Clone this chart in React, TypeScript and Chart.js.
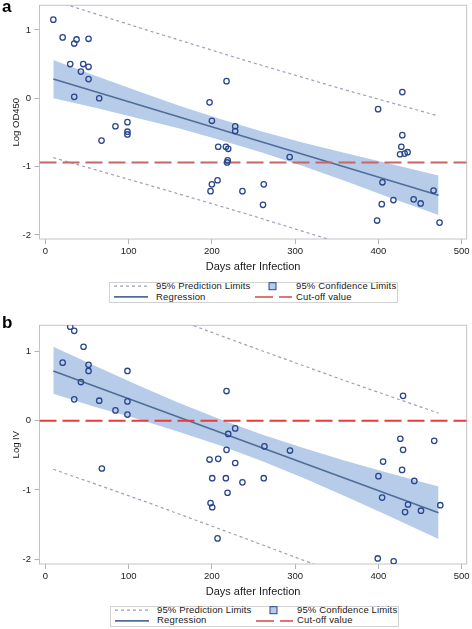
import React, { useEffect, useRef } from 'react';
import { Chart, registerables } from 'chart.js';

Chart.register(...registerables);

const FONT = "'Liberation Sans', Arial, Helvetica, sans-serif";

// ---------- shared axis data ----------
const xTickValues = [0, 100, 200, 300, 400, 500];
const yTickValues = [-2, -1, 0, 1];
const xAxisTitle = 'Days after Infection';
const legendLabels = ['95% Prediction Limits', '95% Confidence Limits', 'Regression', 'Cut-off value'];

// ---------- panel a : Log OD450 ----------
const daysA = [
  9.6, 20.8, 34.7, 37.5, 51.9, 29.9, 45.5, 51.9, 42.7, 51.9, 34.7, 64.7, 84.2, 98.6, 98.6, 98.6, 67.5,
  197.2, 200, 217.6, 228, 228, 207.6, 216.8, 219.6, 219, 218.3, 198.4, 200, 206.8,
  428.7, 399.6, 428.7, 427.5, 426, 431.5, 435, 293.4, 262.3, 236.7, 261.4,
  404.8, 404, 418, 398.4, 442.3, 450.7, 466.2, 473.4,
];
const logOD450 = [
  1.15, 0.89, 0.8, 0.86, 0.87, 0.5, 0.5, 0.46, 0.39, 0.28, 0.02, 0.0, -0.41, -0.35, -0.49, -0.53, -0.62,
  -0.06, -0.33, 0.25, -0.41, -0.48, -0.71, -0.71, -0.74, -0.91, -0.94, -1.36, -1.26, -1.2,
  0.09, -0.16, -0.54, -0.71, -0.82, -0.81, -0.79, -0.86, -1.26, -1.36, -1.56,
  -1.23, -1.55, -1.49, -1.79, -1.48, -1.54, -1.35, -1.82,
];
const regDaysA = [9.6, 472.2];
const regLogA = [0.28, -1.42];
const bandDaysA = [9.6, 60, 110, 160, 210, 260, 310, 360, 410, 472.2];
const confUpperA = [0.56, 0.33, 0.11, -0.105, -0.305, -0.487, -0.651, -0.803, -0.947, -1.13];
const confLowerA = [0.0, -0.14, -0.29, -0.44, -0.61, -0.793, -0.997, -1.213, -1.437, -1.71];
const predDaysA = [9.6, 125, 240, 355, 472.2];
const predUpperA = [1.43, 0.986, 0.553, 0.14, -0.26];
const predLowerA = [-0.87, -1.274, -1.687, -2.12, -2.58];
const cutoffA = -0.94;

// ---------- panel b : Log IV ----------
const daysB = [
  29.9, 34.7, 45.9, 20.8, 51.9, 51.9, 98.6, 42.7, 34.7, 64.7, 98.6, 84.2, 98.6, 67.9,
  217.6, 228, 219.6, 217.6, 197.2, 207.6, 228, 200.4, 216.8, 218.8, 198.4, 200.4, 206.8,
  429.6, 263.1, 293.8, 426.3, 429.6, 467, 405.6, 428.4, 236.7, 262.3, 400, 443.1,
  404.4, 435.5, 432, 451.1, 474.3, 399.2, 418.3,
];
const logIV = [
  1.36, 1.3, 1.07, 0.84, 0.81, 0.72, 0.72, 0.56, 0.31, 0.29, 0.28, 0.15, 0.09, -0.69,
  0.43, -0.11, -0.19, -0.42, -0.56, -0.55, -0.61, -0.83, -0.83, -1.04, -1.19, -1.25, -1.7,
  0.36, -0.37, -0.43, -0.26, -0.42, -0.29, -0.59, -0.71, -0.89, -0.83, -0.8, -0.87,
  -1.11, -1.21, -1.32, -1.3, -1.22, -1.99, -2.03,
];
const regDaysB = [9.6, 472.2];
const regLogB = [0.72, -1.33];
const bandDaysB = [9.6, 60, 110, 160, 210, 260, 310, 360, 410, 472.2];
const confUpperB = [1.07, 0.79, 0.52, 0.26, 0.022, -0.199, -0.395, -0.577, -0.748, -0.95];
const confLowerB = [0.39, 0.2, 0.03, -0.157, -0.358, -0.581, -0.827, -1.089, -1.36, -1.71];
const predDaysB = [9.6, 125, 240, 355, 472.2];
const predUpperB = [2.14, 1.61, 1.1, 0.6, 0.11];
const predLowerB = [-0.7, -1.19, -1.7, -2.22, -2.77];
const cutoffB = 0;

const X_MIN = -7;
const X_MAX = 506;

const zip = (xs: number[], ys: number[]) => xs.map((x, i) => ({ x, y: ys[i] }));

type PanelProps = {
  top: number;
  height: number;
  padTop: number;
  xAxisHeight: number;
  titlePadBottom: number;
  yMin: number;
  yMax: number;
  yTitle: string;
  days: number[];
  values: number[];
  regX: number[];
  regY: number[];
  bandX: number[];
  bandUp: number[];
  bandLo: number[];
  predX: number[];
  predUp: number[];
  predLo: number[];
  cutoff: number;
  cutColor: string;
};

function Panel(p: PanelProps) {
  const ref = useRef<HTMLCanvasElement | null>(null);
  useEffect(() => {
    if (!ref.current) return;
    const frame = {
      id: 'frame',
      beforeDatasetsDraw(chart: any) {
        const { ctx, chartArea: a } = chart;
        ctx.save();
        ctx.strokeStyle = '#c4c4c4';
        ctx.lineWidth = 1;
        ctx.strokeRect(a.left, a.top, a.right - a.left, a.bottom - a.top);
        ctx.restore();
      },
    };
    const chart = new Chart(ref.current, {
      type: 'line',
      data: {
        datasets: [
          {
            label: 'obs',
            data: zip(p.days, p.values),
            showLine: false,
            pointRadius: 2.7,
            pointBorderColor: '#2a468c',
            pointBackgroundColor: 'rgba(0,0,0,0)',
            pointBorderWidth: 1.3,
          },
          {
            label: 'cut',
            data: [{ x: X_MIN, y: p.cutoff }, { x: X_MAX, y: p.cutoff }],
            borderColor: p.cutColor,
            borderWidth: 2,
            borderDash: [17, 6],
            pointRadius: 0,
          },
          {
            label: 'predU',
            data: zip(p.predX, p.predUp),
            borderColor: '#9aa1b8',
            borderWidth: 1.2,
            borderDash: [3, 3],
            pointRadius: 0,
          },
          {
            label: 'predL',
            data: zip(p.predX, p.predLo),
            borderColor: '#9aa1b8',
            borderWidth: 1.2,
            borderDash: [3, 3],
            pointRadius: 0,
          },
          {
            label: 'reg',
            data: zip(p.regX, p.regY),
            borderColor: '#4f6d98',
            borderWidth: 1.6,
            pointRadius: 0,
          },
          {
            label: 'confU',
            data: zip(p.bandX, p.bandUp),
            borderColor: 'rgba(0,0,0,0)',
            borderWidth: 1,
            pointRadius: 0,
            fill: '+1',
            backgroundColor: '#b6cce9',
          },
          {
            label: 'confL',
            data: zip(p.bandX, p.bandLo),
            borderColor: 'rgba(0,0,0,0)',
            borderWidth: 1,
            pointRadius: 0,
            fill: false,
          },
        ],
      },
      options: {
        animation: false,
        responsive: false,
        maintainAspectRatio: false,
        devicePixelRatio: 1,
        layout: { padding: { top: p.padTop, left: 0, right: 4, bottom: 0 } },
        plugins: {
          legend: { display: false },
          tooltip: { enabled: false },
        },
        scales: {
          x: {
            type: 'linear',
            min: X_MIN,
            max: X_MAX,
            afterBuildTicks: (s: any) => {
              s.ticks = xTickValues.map((v) => ({ value: v }));
            },
            afterFit: (s: any) => {
              s.height = p.xAxisHeight;
              s.paddingLeft = 0;
              s.paddingRight = 0;
            },
            ticks: {
              autoSkip: false,
              maxRotation: 0,
              padding: 1.3,
              color: '#222',
              font: { family: FONT, size: 9.5 },
            },
            grid: { drawOnChartArea: false, tickLength: 5, color: '#b4b4b4' },
            border: { display: false },
            title: {
              display: true,
              text: xAxisTitle,
              color: '#1a1a1a',
              font: { family: FONT, size: 11, lineHeight: 1 },
              padding: { top: 0, bottom: p.titlePadBottom },
            },
          },
          y: {
            type: 'linear',
            min: p.yMin,
            max: p.yMax,
            afterBuildTicks: (s: any) => {
              s.ticks = yTickValues.map((v) => ({ value: v }));
            },
            afterFit: (s: any) => {
              s.width = 39.5;
              s.paddingTop = 0;
              s.paddingBottom = 0;
            },
            ticks: {
              padding: 3.5,
              color: '#222',
              font: { family: FONT, size: 9.5 },
            },
            grid: { drawOnChartArea: false, tickLength: 5, color: '#b4b4b4' },
            border: { display: false },
            title: {
              display: true,
              text: p.yTitle,
              color: '#1a1a1a',
              font: { family: FONT, size: 9.5, lineHeight: 1 },
              padding: { top: 12, bottom: 0 },
            },
          },
        },
      },
      plugins: [frame],
    } as any);
    return () => chart.destroy();
  }, []);
  return (
    <canvas
      ref={ref}
      width={472}
      height={p.height}
      style={{ position: 'absolute', left: 0, top: p.top, width: 472, height: p.height }}
    />
  );
}

function LegendBox({ left, top, cutColor }: { left: number; top: number; cutColor: string }) {
  const text: React.CSSProperties = {
    position: 'absolute',
    fontFamily: FONT,
    fontSize: 9.5,
    lineHeight: '11px',
    color: '#1a1a1a',
    whiteSpace: 'nowrap',
    letterSpacing: 0.15,
  };
  const r1 = 3.7;
  const r2 = 14.4;
  return (
    <div
      style={{
        position: 'absolute',
        left,
        top,
        width: 289,
        height: 21,
        boxSizing: 'border-box',
        border: '1px solid #d2d2d2',
        background: '#fff',
      }}
    >
      <svg width={289} height={21} style={{ position: 'absolute', left: -1, top: -1 }}>
        <line x1={5} y1={r1 + 0.5} x2={39} y2={r1 + 0.5} stroke="#9aa1b8" strokeWidth={1.2} strokeDasharray="3 3" />
        <line x1={5} y1={r2 + 0.5} x2={39} y2={r2 + 0.5} stroke="#4f6d98" strokeWidth={1.6} />
        <rect x={160} y={r1 - 3} width={7} height={7} fill="#b6cce9" stroke="#2a468c" strokeWidth={1} />
        <line x1={146} y1={r2 + 0.5} x2={183} y2={r2 + 0.5} stroke={cutColor} strokeWidth={1.5} strokeDasharray="18 6" />
      </svg>
      <div style={{ ...text, left: 46, top: r1 - 6.5 }}>{legendLabels[0]}</div>
      <div style={{ ...text, left: 186, top: r1 - 6.5 }}>{legendLabels[1]}</div>
      <div style={{ ...text, left: 46, top: r2 - 6.5 }}>{legendLabels[2]}</div>
      <div style={{ ...text, left: 186, top: r2 - 6.5 }}>{legendLabels[3]}</div>
    </div>
  );
}

const panelLabel: React.CSSProperties = {
  position: 'absolute',
  left: 2,
  fontFamily: FONT,
  fontWeight: 'bold',
  fontSize: 17,
  lineHeight: '17px',
  color: '#000',
};

export default function App() {
  return (
    <div style={{ position: 'absolute', left: 0, top: 0, width: 472, height: 629, background: '#fff', overflow: 'hidden' }}>
      <Panel
        top={0}
        height={275}
        padTop={2}
        xAxisHeight={36}
        titlePadBottom={2.5}
        yMin={-2.06}
        yMax={1.36}
        yTitle="Log OD450"
        days={daysA}
        values={logOD450}
        regX={regDaysA}
        regY={regLogA}
        bandX={bandDaysA}
        bandUp={confUpperA}
        bandLo={confLowerA}
        predX={predDaysA}
        predUp={predUpperA}
        predLo={predLowerA}
        cutoff={cutoffA}
        cutColor="#c96565"
      />
      <Panel
        top={320}
        height={280}
        padTop={5.3}
        xAxisHeight={36}
        titlePadBottom={3}
        yMin={-2.07}
        yMax={1.38}
        yTitle="Log IV"
        days={daysB}
        values={logIV}
        regX={regDaysB}
        regY={regLogB}
        bandX={bandDaysB}
        bandUp={confUpperB}
        bandLo={confLowerB}
        predX={predDaysB}
        predUp={predUpperB}
        predLo={predLowerB}
        cutoff={cutoffB}
        cutColor="#ea3a3a"
      />
      <LegendBox left={109} top={282} cutColor="#d84848" />
      <LegendBox left={110} top={605.5} cutColor="#d84848" />
      <div style={{ ...panelLabel, top: -2.4 }}>a</div>
      <div style={{ ...panelLabel, top: 313.6 }}>b</div>
    </div>
  );
}
